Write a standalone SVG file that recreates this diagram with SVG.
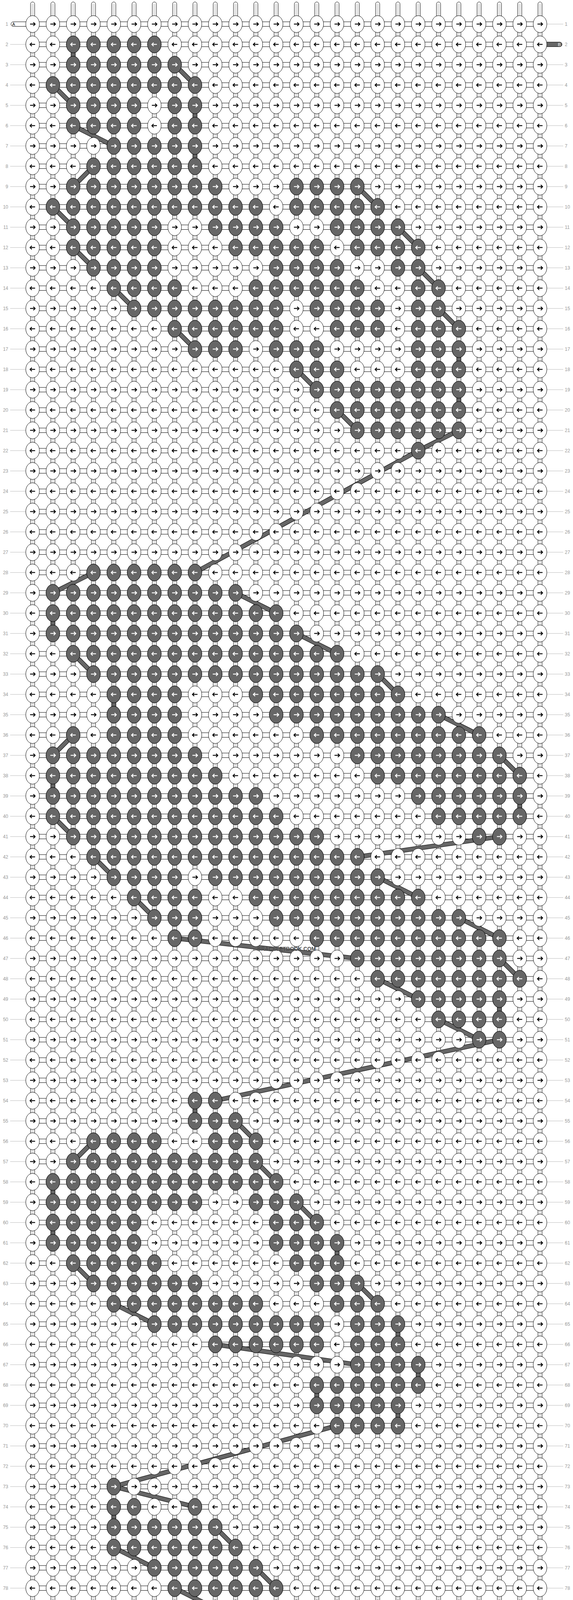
<svg xmlns="http://www.w3.org/2000/svg" width="1468" height="4804" viewBox="0 0 1468 4804">
<style>
.w{fill:#fff;stroke:#000;stroke-width:1}
.d{fill:#666;stroke:#000;stroke-width:1}
.ab{fill:none;stroke:#000;stroke-width:2.2}
.aw{fill:none;stroke:#fff;stroke-width:2.2}
.lbl text{font-family:"Liberation Sans",Arial,sans-serif;font-size:12px;fill:#999}
.ll text{text-anchor:end}
.gl{fill:none;stroke:#bbb;stroke-width:1}
.tag{font-family:"Liberation Sans",Arial,sans-serif;font-size:11px;text-anchor:middle}
.bo{fill:none;stroke:#000;stroke-width:11.6}
.bi{fill:none;stroke:#666;stroke-width:9.6}
</style>
<defs>
<g id="th"><rect x="-5.3" y="-4.7" width="10.6" height="4794" rx="5.3" class="w"/><path d="M-1.6,0V4785M1.6,0V4785" stroke="#aaa" stroke-width="1"/></g>
<g id="t2"><use href="#th"/><use href="#th" x="52"/></g>
<g id="t4"><use href="#t2"/><use href="#t2" x="104"/></g>
<g id="t8"><use href="#t4"/><use href="#t4" x="208"/></g>
<rect id="h1" x="52" y="-5.85" width="1300" height="11.7" class="w"/>
<g id="h2"><use href="#h1"/><use href="#h1" y="52"/></g>
<g id="h4"><use href="#h2"/><use href="#h2" y="104"/></g>
<g id="h8"><use href="#h4"/><use href="#h4" y="208"/></g>
<g id="h16"><use href="#h8"/><use href="#h8" y="416"/></g>
<g id="h32"><use href="#h16"/><use href="#h16" y="832"/></g>
<g id="h64"><use href="#h32"/><use href="#h32" y="1664"/></g>
<g id="o"><ellipse class="w" rx="17.5" ry="21.7"/><path class="ab" d="M-6.5,0H6.5M2,-4.5L6.5,0L2,4.5"/></g>
<g id="o2"><use href="#o"/><use href="#o" x="52"/></g>
<g id="o4"><use href="#o2"/><use href="#o2" x="104"/></g>
<g id="o8"><use href="#o4"/><use href="#o4" x="208"/></g>
<g id="rO"><use href="#o8" x="52"/><use href="#o8" x="468"/><use href="#o8" x="884"/><use href="#o2" x="1300"/></g>
<g id="e"><ellipse class="w" rx="17.5" ry="21.7"/><path class="ab" d="M6.5,0H-6.5M-2,-4.5L-6.5,0L-2,4.5"/></g>
<g id="e2"><use href="#e"/><use href="#e" x="52"/></g>
<g id="e4"><use href="#e2"/><use href="#e2" x="104"/></g>
<g id="e8"><use href="#e4"/><use href="#e4" x="208"/></g>
<g id="rE"><use href="#e8" x="52"/><use href="#e8" x="468"/><use href="#e8" x="884"/><use href="#e2" x="1300"/></g>
<g id="q"><ellipse class="d" rx="17.5" ry="21.7"/><path class="aw" d="M-6.5,0H6.5M2,-4.5L6.5,0L2,4.5"/></g>
<g id="q2"><use href="#q"/><use href="#q" x="52"/></g>
<g id="q4"><use href="#q2"/><use href="#q2" x="104"/></g>
<g id="q8"><use href="#q4"/><use href="#q4" x="208"/></g>
<g id="p"><ellipse class="d" rx="17.5" ry="21.7"/><path class="aw" d="M6.5,0H-6.5M-2,-4.5L-6.5,0L-2,4.5"/></g>
<g id="p2"><use href="#p"/><use href="#p" x="52"/></g>
<g id="p4"><use href="#p2"/><use href="#p2" x="104"/></g>
<g id="p8"><use href="#p4"/><use href="#p4" x="208"/></g>
<path id="bars" d="M156,104L156,156M416,156L468,208M104,208L156,260M468,260L468,312M156,312L260,364M468,364L468,416M208,416L156,468M884,468L936,520M104,520L156,572M988,572L1040,624M156,624L208,676M1040,676L1092,728M260,728L312,780M1092,780L1144,832M416,832L468,884M1144,884L1144,936M728,936L780,988M1144,988L1144,1040M832,1040L884,1092M1144,1092L1040,1144M1040,1144L468,1456M208,1456L104,1508M572,1508L676,1560M104,1560L104,1612M728,1612L832,1664M156,1664L208,1716M936,1716L988,1768M260,1768L260,1820M1092,1820L1196,1872M156,1872L104,1924M1248,1924L1300,1976M104,1976L104,2028M1300,2028L1300,2080M104,2080L156,2132M1248,2132L884,2184M208,2184L260,2236M936,2236L1040,2288M312,2288L364,2340M1144,2340L1248,2392M416,2392L884,2444M1248,2444L1300,2496M936,2496L1040,2548M1248,2548L1248,2600M1092,2600L1196,2652M1248,2652L520,2808M468,2808L468,2860M572,2860L624,2912M208,2912L156,2964M624,2964L676,3016M104,3016L104,3068M728,3068L780,3120M104,3120L104,3172M832,3172L832,3224M156,3224L208,3276M884,3276L936,3328M260,3328L364,3380M988,3380L988,3432M520,3432L884,3484M1040,3484L1040,3536M780,3536L780,3588M988,3588L988,3640M832,3640L260,3796M260,3796L468,3848M260,3848L260,3900M520,3900L572,3952M260,3952L364,4004M624,4004L676,4056M416,4056L520,4108M728,4108L780,4160M312,4160L260,4212M884,4212L936,4264M260,4264L260,4316M988,4316L1092,4368M312,4368L364,4420M1144,4420L1196,4472M624,4472L936,4524M1248,4524L1300,4576M988,4576L1092,4628M1300,4628L1300,4680"/>
</defs>
<rect width="1468" height="4804" fill="#fff"/>
<g id="row-lines">
<path class="gl" d="M26,113.67h40m-40,52h40m-40,52h40m-40,52h40m-40,52h40m-40,52h40m-40,52h40m-40,52h40m-40,52h40m-40,52h40m-40,52h40m-40,52h40m-40,52h40m-40,52h40m-40,52h40m-40,52h40m-40,52h40m-40,52h40m-40,52h40m-40,52h40m-40,52h40m-40,52h40m-40,52h40m-40,52h40m-40,52h40m-40,52h40m-40,52h40m-40,52h40m-40,52h40m-40,52h40m-40,52h40m-40,52h40m-40,52h40m-40,52h40m-40,52h40m-40,52h40m-40,52h40m-40,52h40m-40,52h40m-40,52h40m-40,52h40m-40,52h40m-40,52h40m-40,52h40m-40,52h40m-40,52h40m-40,52h40m-40,52h40m-40,52h40m-40,52h40m-40,52h40m-40,52h40m-40,52h40m-40,52h40m-40,52h40m-40,52h40m-40,52h40m-40,52h40m-40,52h40m-40,52h40m-40,52h40m-40,52h40m-40,52h40m-40,52h40m-40,52h40m-40,52h40m-40,52h40m-40,52h40m-40,52h40m-40,52h40m-40,52h40m-40,52h40m-40,52h40m-40,52h40m-40,52h40m-40,52h40m-40,52h40m-40,52h40m-40,52h40m-40,52h40m-40,52h40m-40,52h40m-40,52h40m-40,52h40m-40,52h40m-40,52h40m-40,52h40m-40,104h40"/>
<path class="gl" d="M1401,61.67h42m-42,104h42m-42,52h42m-42,52h42m-42,52h42m-42,52h42m-42,52h42m-42,52h42m-42,52h42m-42,52h42m-42,52h42m-42,52h42m-42,52h42m-42,52h42m-42,52h42m-42,52h42m-42,52h42m-42,52h42m-42,52h42m-42,52h42m-42,52h42m-42,52h42m-42,52h42m-42,52h42m-42,52h42m-42,52h42m-42,52h42m-42,52h42m-42,52h42m-42,52h42m-42,52h42m-42,52h42m-42,52h42m-42,52h42m-42,52h42m-42,52h42m-42,52h42m-42,52h42m-42,52h42m-42,52h42m-42,52h42m-42,52h42m-42,52h42m-42,52h42m-42,52h42m-42,52h42m-42,52h42m-42,52h42m-42,52h42m-42,52h42m-42,52h42m-42,52h42m-42,52h42m-42,52h42m-42,52h42m-42,52h42m-42,52h42m-42,52h42m-42,52h42m-42,52h42m-42,52h42m-42,52h42m-42,52h42m-42,52h42m-42,52h42m-42,52h42m-42,52h42m-42,52h42m-42,52h42m-42,52h42m-42,52h42m-42,52h42m-42,52h42m-42,52h42m-42,52h42m-42,52h42m-42,52h42m-42,52h42m-42,52h42m-42,52h42m-42,52h42m-42,52h42m-42,52h42m-42,52h42m-42,52h42m-42,52h42"/>
</g>
<g class="lbl" transform="translate(0,13.97)">
<g class="ll"><text x="21" y="52">1</text><text x="21" y="104">2</text><text x="21" y="156">3</text><text x="21" y="208">4</text><text x="21" y="260">5</text><text x="21" y="312">6</text><text x="21" y="364">7</text><text x="21" y="416">8</text><text x="21" y="468">9</text><text x="21" y="520">10</text><text x="21" y="572">11</text><text x="21" y="624">12</text><text x="21" y="676">13</text><text x="21" y="728">14</text><text x="21" y="780">15</text><text x="21" y="832">16</text><text x="21" y="884">17</text><text x="21" y="936">18</text><text x="21" y="988">19</text><text x="21" y="1040">20</text><text x="21" y="1092">21</text><text x="21" y="1144">22</text><text x="21" y="1196">23</text><text x="21" y="1248">24</text><text x="21" y="1300">25</text><text x="21" y="1352">26</text><text x="21" y="1404">27</text><text x="21" y="1456">28</text><text x="21" y="1508">29</text><text x="21" y="1560">30</text><text x="21" y="1612">31</text><text x="21" y="1664">32</text><text x="21" y="1716">33</text><text x="21" y="1768">34</text><text x="21" y="1820">35</text><text x="21" y="1872">36</text><text x="21" y="1924">37</text><text x="21" y="1976">38</text><text x="21" y="2028">39</text><text x="21" y="2080">40</text><text x="21" y="2132">41</text><text x="21" y="2184">42</text><text x="21" y="2236">43</text><text x="21" y="2288">44</text><text x="21" y="2340">45</text><text x="21" y="2392">46</text><text x="21" y="2444">47</text><text x="21" y="2496">48</text><text x="21" y="2548">49</text><text x="21" y="2600">50</text><text x="21" y="2652">51</text><text x="21" y="2704">52</text><text x="21" y="2756">53</text><text x="21" y="2808">54</text><text x="21" y="2860">55</text><text x="21" y="2912">56</text><text x="21" y="2964">57</text><text x="21" y="3016">58</text><text x="21" y="3068">59</text><text x="21" y="3120">60</text><text x="21" y="3172">61</text><text x="21" y="3224">62</text><text x="21" y="3276">63</text><text x="21" y="3328">64</text><text x="21" y="3380">65</text><text x="21" y="3432">66</text><text x="21" y="3484">67</text><text x="21" y="3536">68</text><text x="21" y="3588">69</text><text x="21" y="3640">70</text><text x="21" y="3692">71</text><text x="21" y="3744">72</text><text x="21" y="3796">73</text><text x="21" y="3848">74</text><text x="21" y="3900">75</text><text x="21" y="3952">76</text><text x="21" y="4004">77</text><text x="21" y="4056">78</text><text x="21" y="4108">79</text><text x="21" y="4160">80</text><text x="21" y="4212">81</text><text x="21" y="4264">82</text><text x="21" y="4316">83</text><text x="21" y="4368">84</text><text x="21" y="4420">85</text><text x="21" y="4472">86</text><text x="21" y="4524">87</text><text x="21" y="4576">88</text><text x="21" y="4628">89</text><text x="21" y="4680">90</text><text x="21" y="4732">91</text></g>
<g><text x="1447" y="52">1</text><text x="1447" y="104">2</text><text x="1447" y="156">3</text><text x="1447" y="208">4</text><text x="1447" y="260">5</text><text x="1447" y="312">6</text><text x="1447" y="364">7</text><text x="1447" y="416">8</text><text x="1447" y="468">9</text><text x="1447" y="520">10</text><text x="1447" y="572">11</text><text x="1447" y="624">12</text><text x="1447" y="676">13</text><text x="1447" y="728">14</text><text x="1447" y="780">15</text><text x="1447" y="832">16</text><text x="1447" y="884">17</text><text x="1447" y="936">18</text><text x="1447" y="988">19</text><text x="1447" y="1040">20</text><text x="1447" y="1092">21</text><text x="1447" y="1144">22</text><text x="1447" y="1196">23</text><text x="1447" y="1248">24</text><text x="1447" y="1300">25</text><text x="1447" y="1352">26</text><text x="1447" y="1404">27</text><text x="1447" y="1456">28</text><text x="1447" y="1508">29</text><text x="1447" y="1560">30</text><text x="1447" y="1612">31</text><text x="1447" y="1664">32</text><text x="1447" y="1716">33</text><text x="1447" y="1768">34</text><text x="1447" y="1820">35</text><text x="1447" y="1872">36</text><text x="1447" y="1924">37</text><text x="1447" y="1976">38</text><text x="1447" y="2028">39</text><text x="1447" y="2080">40</text><text x="1447" y="2132">41</text><text x="1447" y="2184">42</text><text x="1447" y="2236">43</text><text x="1447" y="2288">44</text><text x="1447" y="2340">45</text><text x="1447" y="2392">46</text><text x="1447" y="2444">47</text><text x="1447" y="2496">48</text><text x="1447" y="2548">49</text><text x="1447" y="2600">50</text><text x="1447" y="2652">51</text><text x="1447" y="2704">52</text><text x="1447" y="2756">53</text><text x="1447" y="2808">54</text><text x="1447" y="2860">55</text><text x="1447" y="2912">56</text><text x="1447" y="2964">57</text><text x="1447" y="3016">58</text><text x="1447" y="3068">59</text><text x="1447" y="3120">60</text><text x="1447" y="3172">61</text><text x="1447" y="3224">62</text><text x="1447" y="3276">63</text><text x="1447" y="3328">64</text><text x="1447" y="3380">65</text><text x="1447" y="3432">66</text><text x="1447" y="3484">67</text><text x="1447" y="3536">68</text><text x="1447" y="3588">69</text><text x="1447" y="3640">70</text><text x="1447" y="3692">71</text><text x="1447" y="3744">72</text><text x="1447" y="3796">73</text><text x="1447" y="3848">74</text><text x="1447" y="3900">75</text><text x="1447" y="3952">76</text><text x="1447" y="4004">77</text><text x="1447" y="4056">78</text><text x="1447" y="4108">79</text><text x="1447" y="4160">80</text><text x="1447" y="4212">81</text><text x="1447" y="4264">82</text><text x="1447" y="4316">83</text><text x="1447" y="4368">84</text><text x="1447" y="4420">85</text><text x="1447" y="4472">86</text><text x="1447" y="4524">87</text><text x="1447" y="4576">88</text><text x="1447" y="4628">89</text><text x="1447" y="4680">90</text><text x="1447" y="4732">91</text></g>
</g>
<g id="thread-ends">
<g id="end-A-start"><path class="w" d="M70,55.82H34a5.85,5.85 0 0 0 0,11.7H70z"/><text class="tag" x="35" y="65.6" fill="#000">A</text></g>
<g id="end-B-start"><path class="d" d="M1398,107.82H1434a5.85,5.85 0 0 1 0,11.7H1398z"/><text class="tag" x="1433" y="117.6" fill="#fff">B</text></g>
<g id="end-B-end"><path class="d" d="M70,4683.82H34a5.85,5.85 0 0 0 0,11.7H70z"/><text class="tag" x="35" y="4693.6" fill="#fff">B</text></g>
<g id="end-A-end"><path class="w" d="M1398,4735.82H1434a5.85,5.85 0 0 1 0,11.7H1398z"/><text class="tag" x="1433" y="4745.6" fill="#000">A</text></g>
</g>
<g id="grid" transform="translate(31.5,9.67)">
<g id="threads"><use href="#t8" x="52"/><use href="#t8" x="468"/><use href="#t8" x="884"/><use href="#t2" x="1300"/></g>
<g id="row-strips"><use href="#h64" y="52"/><use href="#h16" y="3380"/><use href="#h8" y="4212"/><use href="#h2" y="4628"/><use href="#h1" y="4732"/></g>
<g id="connectors"><use href="#bars" class="bo"/><use href="#bars" class="bi"/></g>
<g id="knot-rows">
<use id="row1" href="#rO" y="52"/><use id="row2" href="#rE" y="104"/><use id="row3" href="#rO" y="156"/><use id="row4" href="#rE" y="208"/><use id="row5" href="#rO" y="260"/><use id="row6" href="#rE" y="312"/><use id="row7" href="#rO" y="364"/><use id="row8" href="#rE" y="416"/><use id="row9" href="#rO" y="468"/><use id="row10" href="#rE" y="520"/>
<use id="row11" href="#rO" y="572"/><use id="row12" href="#rE" y="624"/><use id="row13" href="#rO" y="676"/><use id="row14" href="#rE" y="728"/><use id="row15" href="#rO" y="780"/><use id="row16" href="#rE" y="832"/><use id="row17" href="#rO" y="884"/><use id="row18" href="#rE" y="936"/><use id="row19" href="#rO" y="988"/><use id="row20" href="#rE" y="1040"/>
<use id="row21" href="#rO" y="1092"/><use id="row22" href="#rE" y="1144"/><use id="row23" href="#rO" y="1196"/><use id="row24" href="#rE" y="1248"/><use id="row25" href="#rO" y="1300"/><use id="row26" href="#rE" y="1352"/><use id="row27" href="#rO" y="1404"/><use id="row28" href="#rE" y="1456"/><use id="row29" href="#rO" y="1508"/><use id="row30" href="#rE" y="1560"/>
<use id="row31" href="#rO" y="1612"/><use id="row32" href="#rE" y="1664"/><use id="row33" href="#rO" y="1716"/><use id="row34" href="#rE" y="1768"/><use id="row35" href="#rO" y="1820"/><use id="row36" href="#rE" y="1872"/><use id="row37" href="#rO" y="1924"/><use id="row38" href="#rE" y="1976"/><use id="row39" href="#rO" y="2028"/><use id="row40" href="#rE" y="2080"/>
<use id="row41" href="#rO" y="2132"/><use id="row42" href="#rE" y="2184"/><use id="row43" href="#rO" y="2236"/><use id="row44" href="#rE" y="2288"/><use id="row45" href="#rO" y="2340"/><use id="row46" href="#rE" y="2392"/><use id="row47" href="#rO" y="2444"/><use id="row48" href="#rE" y="2496"/><use id="row49" href="#rO" y="2548"/><use id="row50" href="#rE" y="2600"/>
<use id="row51" href="#rO" y="2652"/><use id="row52" href="#rE" y="2704"/><use id="row53" href="#rO" y="2756"/><use id="row54" href="#rE" y="2808"/><use id="row55" href="#rO" y="2860"/><use id="row56" href="#rE" y="2912"/><use id="row57" href="#rO" y="2964"/><use id="row58" href="#rE" y="3016"/><use id="row59" href="#rO" y="3068"/><use id="row60" href="#rE" y="3120"/>
<use id="row61" href="#rO" y="3172"/><use id="row62" href="#rE" y="3224"/><use id="row63" href="#rO" y="3276"/><use id="row64" href="#rE" y="3328"/><use id="row65" href="#rO" y="3380"/><use id="row66" href="#rE" y="3432"/><use id="row67" href="#rO" y="3484"/><use id="row68" href="#rE" y="3536"/><use id="row69" href="#rO" y="3588"/><use id="row70" href="#rE" y="3640"/>
<use id="row71" href="#rO" y="3692"/><use id="row72" href="#rE" y="3744"/><use id="row73" href="#rO" y="3796"/><use id="row74" href="#rE" y="3848"/><use id="row75" href="#rO" y="3900"/><use id="row76" href="#rE" y="3952"/><use id="row77" href="#rO" y="4004"/><use id="row78" href="#rE" y="4056"/><use id="row79" href="#rO" y="4108"/><use id="row80" href="#rE" y="4160"/>
<use id="row81" href="#rO" y="4212"/><use id="row82" href="#rE" y="4264"/><use id="row83" href="#rO" y="4316"/><use id="row84" href="#rE" y="4368"/><use id="row85" href="#rO" y="4420"/><use id="row86" href="#rE" y="4472"/><use id="row87" href="#rO" y="4524"/><use id="row88" href="#rE" y="4576"/><use id="row89" href="#rO" y="4628"/><use id="row90" href="#rE" y="4680"/>
<use id="row91" href="#rO" y="4732"/>
</g>
<g id="dark-knots">
<g id="dk2" transform="translate(0,104)"><use href="#p4" x="156"/><use href="#p" x="364"/></g>
<g id="dk3" transform="translate(0,156)"><use href="#q4" x="156"/><use href="#q2" x="364"/></g>
<g id="dk4" transform="translate(0,208)"><use href="#p8" x="104"/></g>
<g id="dk5" transform="translate(0,260)"><use href="#q4" x="156"/><use href="#q2" x="416"/></g>
<g id="dk6" transform="translate(0,312)"><use href="#p4" x="156"/><use href="#p2" x="416"/></g>
<g id="dk7" transform="translate(0,364)"><use href="#q4" x="260"/><use href="#q" x="468"/></g>
<g id="dk8" transform="translate(0,416)"><use href="#p4" x="208"/><use href="#p2" x="416"/></g>
<g id="dk9" transform="translate(0,468)"><use href="#q8" x="156"/><use href="#q4" x="728"/></g>
<g id="dk10" transform="translate(0,520)"><use href="#p8" x="104"/><use href="#p2" x="520"/><use href="#p" x="624"/><use href="#p4" x="728"/><use href="#p" x="936"/></g>
<g id="dk11" transform="translate(0,572)"><use href="#q4" x="156"/><use href="#q" x="364"/><use href="#q4" x="520"/><use href="#q4" x="832"/></g>
<g id="dk12" transform="translate(0,624)"><use href="#p4" x="156"/><use href="#p" x="364"/><use href="#p4" x="572"/><use href="#p" x="780"/><use href="#p4" x="884"/></g>
<g id="dk13" transform="translate(0,676)"><use href="#q4" x="208"/><use href="#q4" x="676"/><use href="#q2" x="988"/></g>
<g id="dk14" transform="translate(0,728)"><use href="#p4" x="260"/><use href="#p4" x="624"/><use href="#p2" x="832"/><use href="#p2" x="1040"/></g>
<g id="dk15" transform="translate(0,780)"><use href="#q8" x="312"/><use href="#q4" x="780"/><use href="#q2" x="1040"/></g>
<g id="dk16" transform="translate(0,832)"><use href="#p4" x="416"/><use href="#p2" x="624"/><use href="#p2" x="832"/><use href="#p" x="936"/><use href="#p2" x="1040"/><use href="#p" x="1144"/></g>
<g id="dk17" transform="translate(0,884)"><use href="#q2" x="468"/><use href="#q" x="572"/><use href="#q2" x="676"/><use href="#q" x="780"/><use href="#q2" x="1040"/><use href="#q" x="1144"/></g>
<g id="dk18" transform="translate(0,936)"><use href="#p2" x="728"/><use href="#p" x="832"/><use href="#p2" x="1040"/><use href="#p" x="1144"/></g>
<g id="dk19" transform="translate(0,988)"><use href="#q8" x="780"/></g>
<g id="dk20" transform="translate(0,1040)"><use href="#p4" x="832"/><use href="#p2" x="1040"/><use href="#p" x="1144"/></g>
<g id="dk21" transform="translate(0,1092)"><use href="#q4" x="884"/><use href="#q2" x="1092"/></g>
<g id="dk22" transform="translate(0,1144)"><use href="#p" x="1040"/></g>
<g id="dk28" transform="translate(0,1456)"><use href="#p4" x="208"/><use href="#p2" x="416"/></g>
<g id="dk29" transform="translate(0,1508)"><use href="#q8" x="104"/><use href="#q2" x="520"/></g>
<g id="dk30" transform="translate(0,1560)"><use href="#p8" x="104"/><use href="#p4" x="520"/></g>
<g id="dk31" transform="translate(0,1612)"><use href="#q8" x="104"/><use href="#q4" x="520"/><use href="#q" x="728"/></g>
<g id="dk32" transform="translate(0,1664)"><use href="#p8" x="156"/><use href="#p4" x="572"/><use href="#p2" x="780"/></g>
<g id="dk33" transform="translate(0,1716)"><use href="#q8" x="208"/><use href="#q4" x="624"/><use href="#q2" x="832"/><use href="#q" x="936"/></g>
<g id="dk34" transform="translate(0,1768)"><use href="#p4" x="260"/><use href="#p8" x="624"/></g>
<g id="dk35" transform="translate(0,1820)"><use href="#q4" x="260"/><use href="#q8" x="676"/><use href="#q" x="1092"/></g>
<g id="dk36" transform="translate(0,1872)"><use href="#p" x="156"/><use href="#p4" x="260"/><use href="#p8" x="780"/><use href="#p" x="1196"/></g>
<g id="dk37" transform="translate(0,1924)"><use href="#q8" x="104"/><use href="#q8" x="884"/></g>
<g id="dk38" transform="translate(0,1976)"><use href="#p8" x="104"/><use href="#p" x="520"/><use href="#p8" x="936"/></g>
<g id="dk39" transform="translate(0,2028)"><use href="#q8" x="104"/><use href="#q2" x="520"/><use href="#q" x="624"/><use href="#q4" x="1040"/><use href="#q2" x="1248"/></g>
<g id="dk40" transform="translate(0,2080)"><use href="#p8" x="104"/><use href="#p4" x="520"/><use href="#p4" x="1092"/><use href="#p" x="1300"/></g>
<g id="dk41" transform="translate(0,2132)"><use href="#q8" x="156"/><use href="#q4" x="572"/><use href="#q" x="780"/><use href="#q2" x="1196"/></g>
<g id="dk42" transform="translate(0,2184)"><use href="#p8" x="208"/><use href="#p4" x="624"/><use href="#p2" x="832"/></g>
<g id="dk43" transform="translate(0,2236)"><use href="#q4" x="260"/><use href="#q8" x="520"/><use href="#q" x="936"/></g>
<g id="dk44" transform="translate(0,2288)"><use href="#p4" x="312"/><use href="#p8" x="624"/><use href="#p" x="1040"/></g>
<g id="dk45" transform="translate(0,2340)"><use href="#q2" x="364"/><use href="#q" x="468"/><use href="#q8" x="676"/><use href="#q2" x="1092"/></g>
<g id="dk46" transform="translate(0,2392)"><use href="#p2" x="416"/><use href="#p8" x="780"/><use href="#p2" x="1196"/></g>
<g id="dk47" transform="translate(0,2444)"><use href="#q8" x="884"/></g>
<g id="dk48" transform="translate(0,2496)"><use href="#p8" x="936"/></g>
<g id="dk49" transform="translate(0,2548)"><use href="#q4" x="1040"/><use href="#q" x="1248"/></g>
<g id="dk50" transform="translate(0,2600)"><use href="#p4" x="1092"/></g>
<g id="dk51" transform="translate(0,2652)"><use href="#q2" x="1196"/></g>
<g id="dk54" transform="translate(0,2808)"><use href="#p2" x="468"/></g>
<g id="dk55" transform="translate(0,2860)"><use href="#q2" x="468"/><use href="#q" x="572"/></g>
<g id="dk56" transform="translate(0,2912)"><use href="#p4" x="208"/><use href="#p2" x="520"/><use href="#p" x="624"/></g>
<g id="dk57" transform="translate(0,2964)"><use href="#q8" x="156"/><use href="#q2" x="572"/></g>
<g id="dk58" transform="translate(0,3016)"><use href="#p8" x="104"/><use href="#p4" x="520"/></g>
<g id="dk59" transform="translate(0,3068)"><use href="#q8" x="104"/><use href="#q2" x="624"/><use href="#q" x="728"/></g>
<g id="dk60" transform="translate(0,3120)"><use href="#p4" x="104"/><use href="#p" x="312"/><use href="#p2" x="676"/><use href="#p" x="780"/></g>
<g id="dk61" transform="translate(0,3172)"><use href="#q4" x="104"/><use href="#q" x="312"/><use href="#q4" x="676"/></g>
<g id="dk62" transform="translate(0,3224)"><use href="#p4" x="156"/><use href="#p" x="364"/><use href="#p2" x="728"/><use href="#p" x="832"/></g>
<g id="dk63" transform="translate(0,3276)"><use href="#q4" x="208"/><use href="#q2" x="416"/><use href="#q2" x="780"/><use href="#q" x="884"/></g>
<g id="dk64" transform="translate(0,3328)"><use href="#p8" x="260"/><use href="#p2" x="832"/><use href="#p" x="936"/></g>
<g id="dk65" transform="translate(0,3380)"><use href="#q8" x="364"/><use href="#q" x="780"/><use href="#q2" x="884"/><use href="#q" x="988"/></g>
<g id="dk66" transform="translate(0,3432)"><use href="#p4" x="520"/><use href="#p2" x="728"/><use href="#p2" x="884"/><use href="#p" x="988"/></g>
<g id="dk67" transform="translate(0,3484)"><use href="#q4" x="884"/></g>
<g id="dk68" transform="translate(0,3536)"><use href="#p4" x="780"/><use href="#p2" x="988"/></g>
<g id="dk69" transform="translate(0,3588)"><use href="#q4" x="780"/><use href="#q" x="988"/></g>
<g id="dk70" transform="translate(0,3640)"><use href="#p4" x="832"/></g>
<g id="dk73" transform="translate(0,3796)"><use href="#q" x="260"/></g>
<g id="dk74" transform="translate(0,3848)"><use href="#p2" x="260"/><use href="#p" x="468"/></g>
<g id="dk75" transform="translate(0,3900)"><use href="#q4" x="260"/><use href="#q2" x="468"/></g>
<g id="dk76" transform="translate(0,3952)"><use href="#p4" x="260"/><use href="#p2" x="468"/><use href="#p" x="572"/></g>
<g id="dk77" transform="translate(0,4004)"><use href="#q4" x="364"/><use href="#q2" x="572"/></g>
<g id="dk78" transform="translate(0,4056)"><use href="#p4" x="416"/><use href="#p2" x="624"/></g>
<g id="dk79" transform="translate(0,4108)"><use href="#q4" x="520"/><use href="#q" x="728"/></g>
<g id="dk80" transform="translate(0,4160)"><use href="#p2" x="312"/><use href="#p4" x="572"/><use href="#p" x="780"/></g>
<g id="dk81" transform="translate(0,4212)"><use href="#q4" x="260"/><use href="#q" x="468"/><use href="#q4" x="624"/><use href="#q2" x="832"/></g>
<g id="dk82" transform="translate(0,4264)"><use href="#p4" x="260"/><use href="#p2" x="468"/><use href="#p4" x="624"/><use href="#p2" x="832"/><use href="#p" x="936"/></g>
<g id="dk83" transform="translate(0,4316)"><use href="#q8" x="260"/><use href="#q4" x="676"/><use href="#q2" x="884"/><use href="#q" x="988"/></g>
<g id="dk84" transform="translate(0,4368)"><use href="#p2" x="312"/><use href="#p4" x="468"/><use href="#p2" x="676"/><use href="#p" x="780"/><use href="#p4" x="936"/></g>
<g id="dk85" transform="translate(0,4420)"><use href="#q2" x="364"/><use href="#q8" x="572"/><use href="#q2" x="1040"/><use href="#q" x="1144"/></g>
<g id="dk86" transform="translate(0,4472)"><use href="#p8" x="624"/><use href="#p2" x="1092"/><use href="#p" x="1196"/></g>
<g id="dk87" transform="translate(0,4524)"><use href="#q2" x="936"/><use href="#q" x="1040"/><use href="#q2" x="1144"/><use href="#q" x="1248"/></g>
<g id="dk88" transform="translate(0,4576)"><use href="#p4" x="988"/><use href="#p2" x="1196"/><use href="#p" x="1300"/></g>
<g id="dk89" transform="translate(0,4628)"><use href="#q4" x="1092"/><use href="#q" x="1300"/></g>
<g id="dk90" transform="translate(0,4680)"><use href="#p4" x="1144"/></g>
</g>
</g>
<text id="watermark" x="734" y="2434" font-family="'Liberation Sans Narrow','Liberation Sans',Arial,sans-serif" font-weight="bold" font-size="15" fill="#4d4d4d" text-anchor="middle" textLength="150" lengthAdjust="spacingAndGlyphs">BRACELETBOOK.COM</text>
</svg>
